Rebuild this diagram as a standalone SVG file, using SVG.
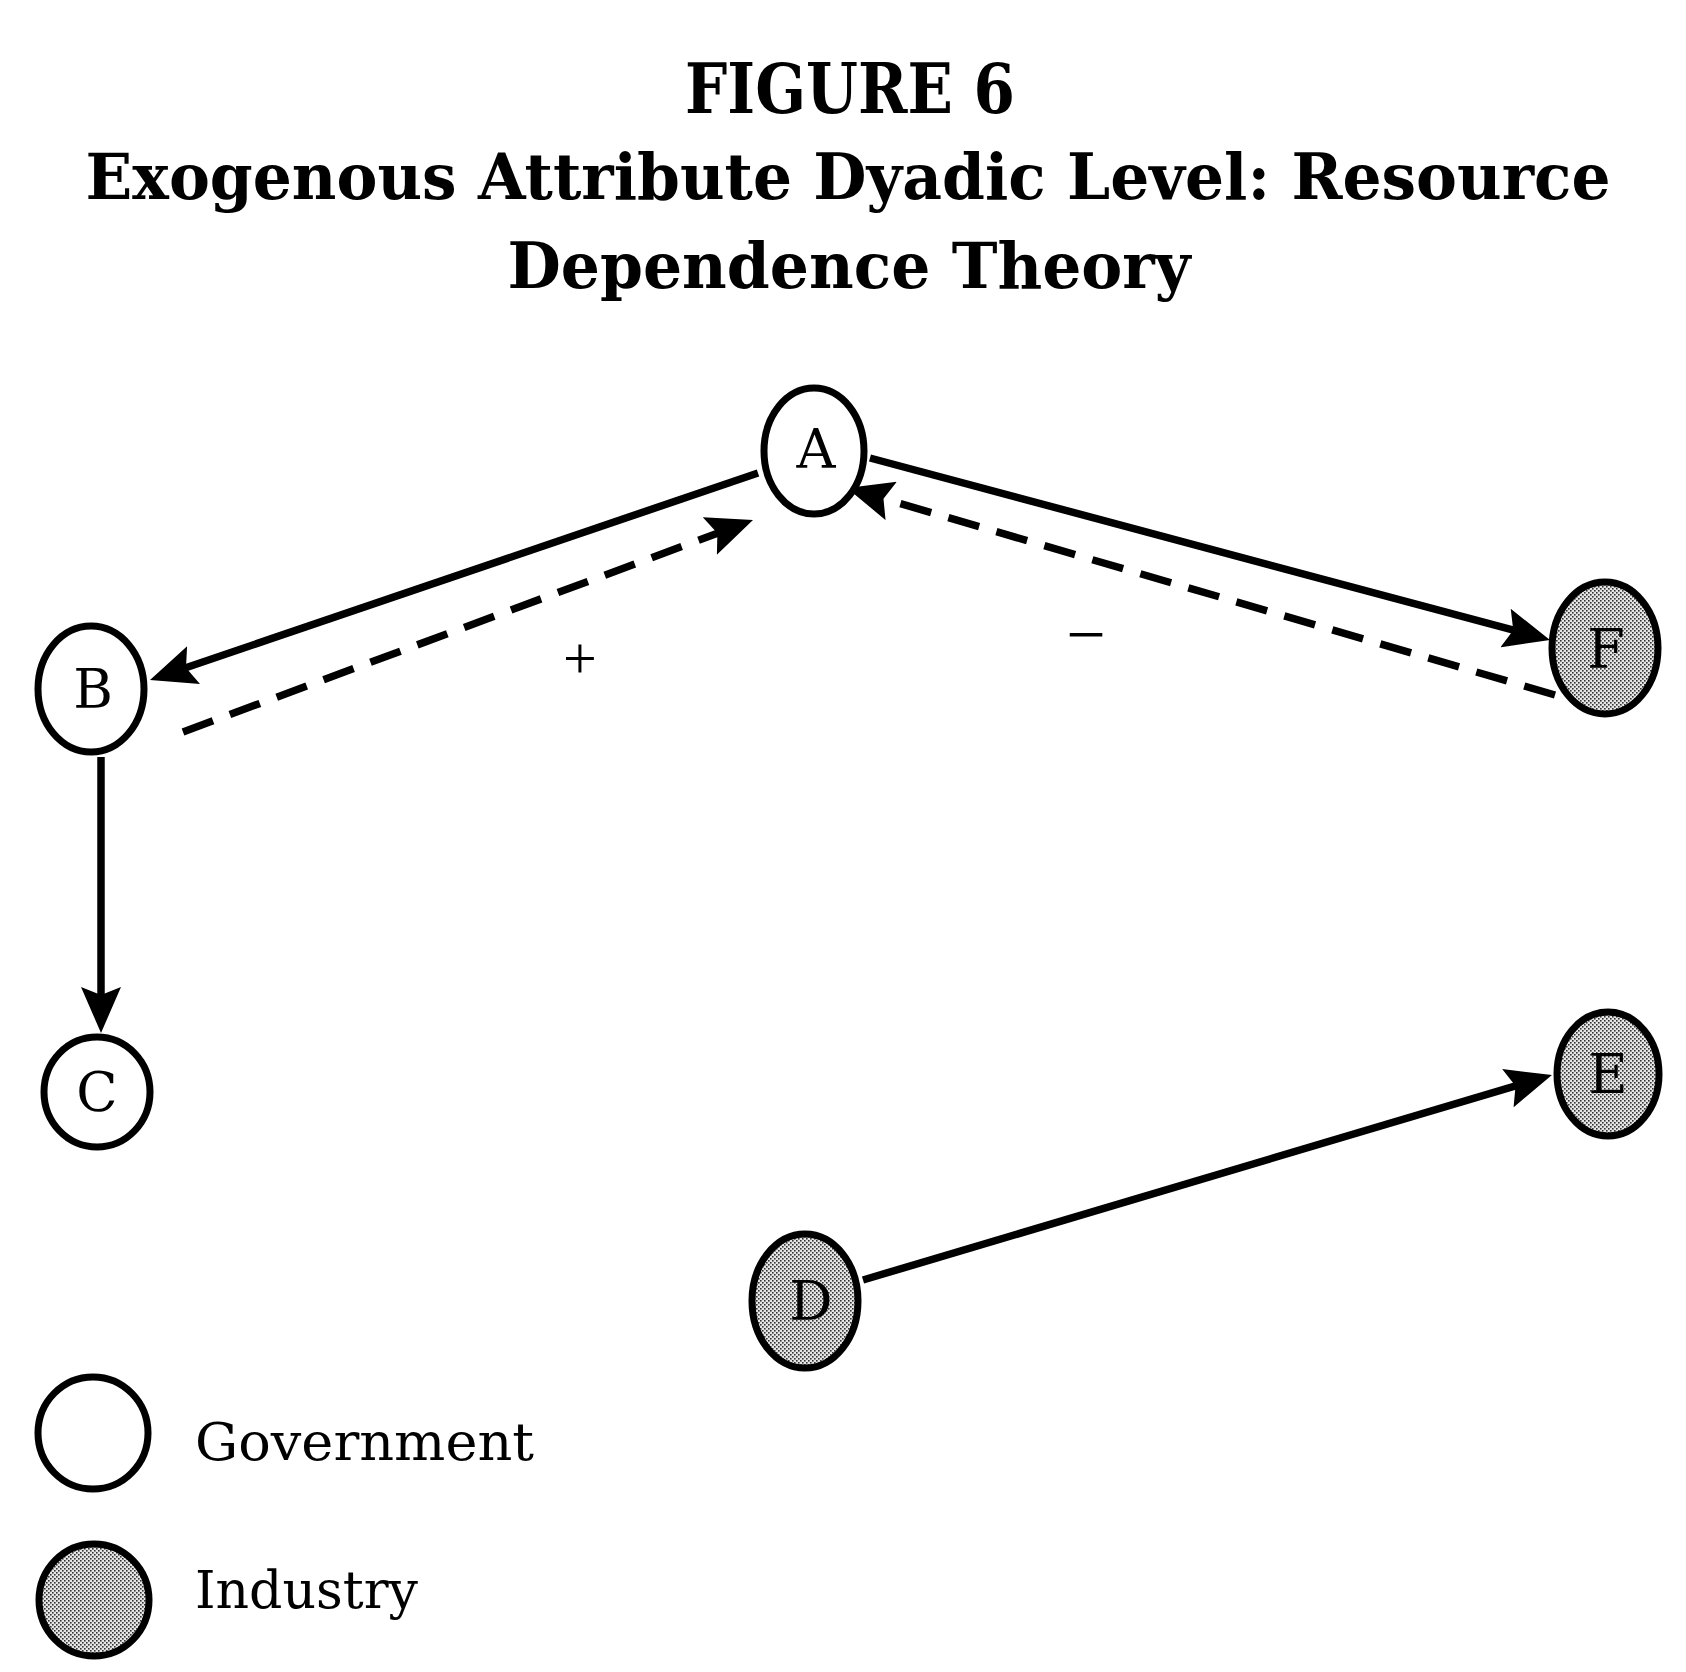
<svg xmlns="http://www.w3.org/2000/svg" width="1686" height="1672" viewBox="0 0 1686 1672">
<defs>
<style>
.title{font-family:"DejaVu Serif","Liberation Serif",serif;font-weight:bold;fill:#000;text-anchor:middle}
.lbl{font-family:"DejaVu Serif","Liberation Serif",serif;fill:#000;text-anchor:middle}
.leg{font-family:"DejaVu Serif","Liberation Serif",serif;fill:#000}
.sign{font-family:"Liberation Serif",serif;fill:#000;text-anchor:middle}
.gov{fill:#fff;stroke:#000;stroke-width:7}
.ind{fill:url(#dots);stroke:#000;stroke-width:7}
.edge{fill:none;stroke:#000;stroke-width:7.5}
.dash{stroke-dasharray:32 18}
</style>
<pattern id="dots" width="4" height="4" patternUnits="userSpaceOnUse">
<rect width="4" height="4" fill="#e6e6e6"/>
<rect x="0" y="0" width="1.6" height="1.6" fill="#333"/>
<rect x="2" y="2" width="1.6" height="1.6" fill="#333"/>
</pattern>
<marker id="arr" markerUnits="userSpaceOnUse" viewBox="0 0 46 40" markerWidth="46" markerHeight="40" refX="16" refY="20" orient="auto">
<path d="M0,0 L46,20 L0,40 L8,20 Z" fill="#000"/>
</marker>
</defs>

<g id="title">
<text class="title" x="850" y="113" font-size="70" textLength="330" lengthAdjust="spacingAndGlyphs">FIGURE 6</text>
<text class="title" x="848" y="199" font-size="64" textLength="1525" lengthAdjust="spacingAndGlyphs">Exogenous Attribute Dyadic Level: Resource</text>
<text class="title" x="849" y="288" font-size="64" textLength="683" lengthAdjust="spacingAndGlyphs">Dependence Theory</text>
</g>

<g id="connectors">
<path class="edge" d="M758,473 L178.4,670.3" marker-end="url(#arr)"/>
<path class="edge" d="M101,757 L101,1003" marker-end="url(#arr)"/>
<path class="edge" d="M870,458 L1521,632.2" marker-end="url(#arr)"/>
<path class="edge" d="M863,1280 L1523.2,1083.6" marker-end="url(#arr)"/>
<path class="edge dash" d="M183,732 L724.9,530.5" marker-end="url(#arr)"/>
<path class="edge dash" d="M1555,695 L875.8,496.4" marker-end="url(#arr)"/>
<text class="sign" x="580" y="678" font-size="60">+</text>
<text class="sign" x="1086" y="658" font-size="70">−</text>
</g>

<g id="node-A">
<ellipse class="gov" cx="814" cy="451" rx="50" ry="63"/>
<text class="lbl" x="816" y="468" font-size="54">A</text>
</g>
<g id="node-B">
<ellipse class="gov" cx="91" cy="689" rx="53" ry="63"/>
<text class="lbl" x="93" y="708" font-size="54">B</text>
</g>
<g id="node-C">
<ellipse class="gov" cx="97" cy="1092" rx="53" ry="55"/>
<text class="lbl" x="97" y="1111" font-size="54">C</text>
</g>
<g id="node-D">
<ellipse class="ind" cx="805" cy="1301" rx="53" ry="67"/>
<text class="lbl" x="811" y="1320" font-size="54">D</text>
</g>
<g id="node-E">
<ellipse class="ind" cx="1608" cy="1074" rx="51" ry="62"/>
<text class="lbl" x="1608" y="1093" font-size="54">E</text>
</g>
<g id="node-F">
<ellipse class="ind" cx="1605" cy="648" rx="53" ry="66"/>
<text class="lbl" x="1606" y="668" font-size="54">F</text>
</g>

<g id="legend">
<g id="legend-government">
<ellipse class="gov" cx="93" cy="1433" rx="55" ry="56"/>
<text class="leg" x="195" y="1460" font-size="52" textLength="339" lengthAdjust="spacingAndGlyphs">Government</text>
</g>
<g id="legend-industry">
<ellipse class="ind" cx="94" cy="1600" rx="55" ry="56"/>
<text class="leg" x="195" y="1608" font-size="52" textLength="223" lengthAdjust="spacingAndGlyphs">Industry</text>
</g>
</g>
</svg>
